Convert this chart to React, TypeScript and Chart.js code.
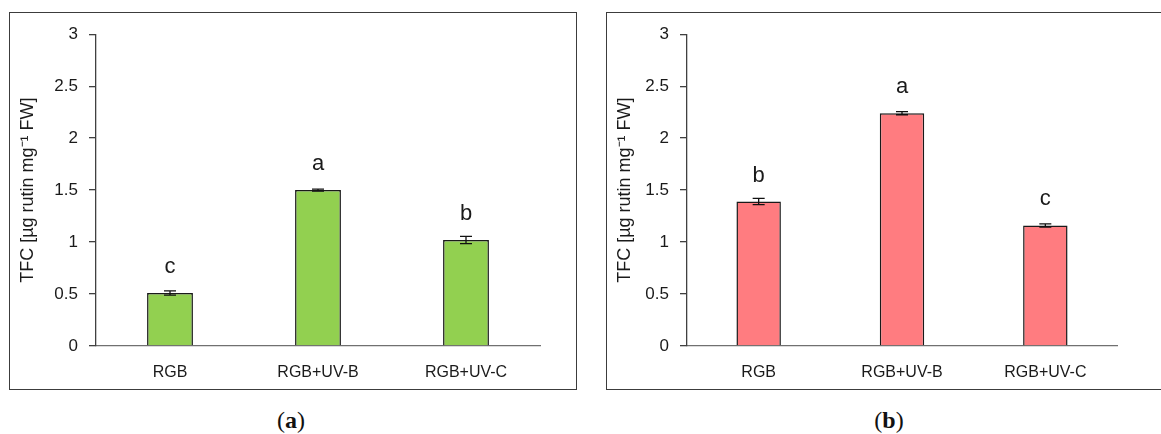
import React, { useEffect, useRef } from 'react';
import { Chart, registerables } from 'chart.js';

Chart.register(...registerables);

// Treatments on the x axis
const categories = ['RGB', 'RGB+UV-B', 'RGB+UV-C'];

// Panel (a): green series, means, standard errors and significance letters
const tfcA = [0.51, 1.5, 1.02];
const errA = [0.02, 0.01, 0.035];
const lettersA = ['c', 'a', 'b'];

// Panel (b): red series
const tfcB = [1.39, 2.24, 1.16];
const errB = [0.03, 0.015, 0.015];
const lettersB = ['b', 'a', 'c'];

// Value axis
const yMin = 0;
const yMax = 3;
const yStep = 0.5;
const yTitle = 'TFC [µg rutin mg⁻¹ FW]';

const SANS = '"Liberation Sans", Arial, sans-serif';
const TEXT = '#1a1a1a';

// Draws the error whiskers and the letter above every bar
const barExtras = {
  id: 'barExtras',
  afterDatasetsDraw(chart: any, _args: any, opts: any) {
    const { ctx } = chart;
    const y = chart.scales.y;
    const meta = chart.getDatasetMeta(0);
    const values = chart.data.datasets[0].data as number[];
    ctx.save();
    meta.data.forEach((bar: any, i: number) => {
      const x = bar.x;
      const v = values[i];
      const e = opts.errors[i];
      const hi = y.getPixelForValue(v + e);
      const lo = y.getPixelForValue(v - e);
      ctx.strokeStyle = '#111';
      ctx.lineWidth = 1.3;
      ctx.beginPath();
      ctx.moveTo(x, hi);
      ctx.lineTo(x, lo);
      ctx.moveTo(x - 6, hi);
      ctx.lineTo(x + 6, hi);
      ctx.moveTo(x - 6, lo);
      ctx.lineTo(x + 6, lo);
      ctx.stroke();
      ctx.fillStyle = TEXT;
      ctx.font = `22px ${SANS}`;
      ctx.textAlign = 'center';
      ctx.textBaseline = 'alphabetic';
      ctx.fillText(opts.letters[i], x, y.getPixelForValue(v) - 20);
    });
    ctx.restore();
  },
};

type PanelProps = {
  left: number;
  boxWidth: number;
  axisWidth: number;
  plotRight: number;
  values: number[];
  errors: number[];
  letters: string[];
  fill: string;
};

function Panel({ left, boxWidth, axisWidth, plotRight, values, errors, letters, fill }: PanelProps) {
  const ref = useRef<HTMLCanvasElement | null>(null);
  const boxHeight = 378;
  const cw = boxWidth - 2;
  const ch = boxHeight - 2;

  useEffect(() => {
    if (!ref.current) return;
    const chart = new Chart(ref.current, {
      type: 'bar',
      data: {
        labels: categories,
        datasets: [
          {
            data: values,
            backgroundColor: fill,
            borderColor: '#1a1a1a',
            borderWidth: 1.5,
            categoryPercentage: 1,
            barPercentage: 0.31,
          },
        ],
      },
      options: {
        responsive: false,
        animation: false,
        devicePixelRatio: 1,
        layout: { padding: { top: 20, right: cw - plotRight, left: 0, bottom: 0 } },
        plugins: {
          legend: { display: false },
          tooltip: { enabled: false },
          barExtras: { errors, letters },
        } as any,
        scales: {
          x: {
            type: 'category',
            grid: { display: true, drawOnChartArea: false, drawTicks: false },
            border: { display: true, color: '#707070', width: 1.3 },
            ticks: {
              color: TEXT,
              font: { size: 16, family: SANS },
              padding: 17,
              maxRotation: 0,
              autoSkip: false,
            },
            afterFit: (s: any) => {
              s.height = ch - 333;
            },
          },
          y: {
            min: yMin,
            max: yMax,
            ticks: {
              stepSize: yStep,
              callback: (v: any) => String(v),
              color: TEXT,
              font: { size: 17, family: SANS },
              padding: 11,
            },
            grid: {
              drawOnChartArea: false,
              drawTicks: true,
              tickLength: 7,
              color: '#404040',
              lineWidth: 1.3,
            },
            border: { color: '#404040', width: 1.3 },
            title: {
              display: true,
              text: yTitle,
              color: TEXT,
              font: { size: 18, family: SANS },
              padding: { top: 7.5, bottom: 0 },
            },
            afterFit: (s: any) => {
              s.width = axisWidth;
            },
          },
        },
      },
      plugins: [barExtras],
    });
    return () => chart.destroy();
  }, []);

  return (
    <div
      style={{
        position: 'absolute',
        left,
        top: 12,
        width: boxWidth,
        height: boxHeight,
        boxSizing: 'border-box',
        border: '1px solid #3c3c3c',
        background: '#fff',
      }}
    >
      <canvas ref={ref} width={cw} height={ch} style={{ display: 'block', width: cw, height: ch }} />
    </div>
  );
}

function Caption({ center, letter }: { center: number; letter: string }) {
  return (
    <div
      style={{
        position: 'absolute',
        left: center - 40,
        width: 80,
        top: 406,
        textAlign: 'center',
        fontFamily: '"Liberation Serif", "DejaVu Serif", serif',
        fontSize: 24,
        lineHeight: '28px',
        color: '#111',
      }}
    >
      (<b>{letter}</b>)
    </div>
  );
}

export default function App() {
  return (
    <div
      style={{
        position: 'fixed',
        left: 0,
        top: 0,
        width: 1161,
        height: 434,
        background: '#fff',
        overflow: 'hidden',
      }}
    >
      <Panel
        left={9}
        boxWidth={568}
        axisWidth={86}
        plotRight={530}
        values={tfcA}
        errors={errA}
        letters={lettersA}
        fill="#92D050"
      />
      <Panel
        left={606}
        boxWidth={570}
        axisWidth={80}
        plotRight={510}
        values={tfcB}
        errors={errB}
        letters={lettersB}
        fill="#FF7C80"
      />
      <Caption center={291} letter="a" />
      <Caption center={889} letter="b" />
    </div>
  );
}
